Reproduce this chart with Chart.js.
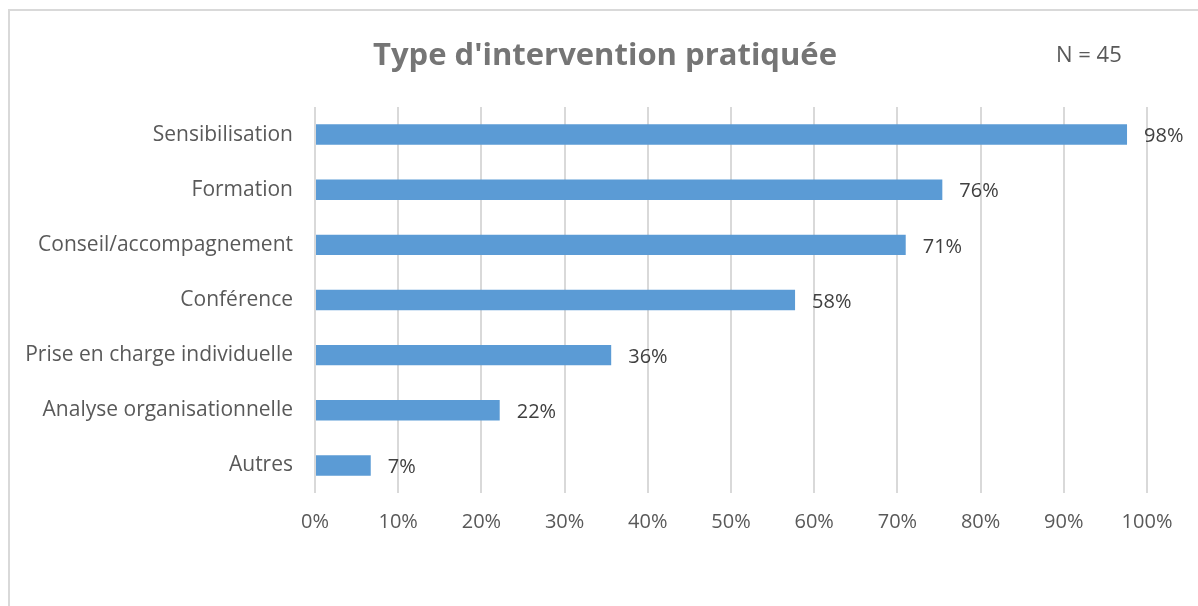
<!DOCTYPE html>
<html>
<head>
<meta charset="utf-8">
<script src="https://cdn.jsdelivr.net/npm/chart.js@4"></script>
<style>
  html, body { margin: 0; padding: 0; background: #fff; }
  #wrap { position: relative; width: 1198px; height: 606px; overflow: hidden; }
  #frame { position: absolute; left: 8px; top: 9px; width: 1300px; height: 700px;
           border-left: 2px solid #d9d9d9; border-top: 2px solid #d9d9d9; box-sizing: border-box; }
  canvas { position: absolute; left: 0; top: 0; }
</style>
</head>
<body>
<div id="wrap">
  <div id="frame"></div>
  <canvas id="chart" width="1198" height="606"></canvas>
</div>
<script>
// --- Data ---
const categories = [
  'Sensibilisation',
  'Formation',
  'Conseil/accompagnement',
  'Conférence',
  'Prise en charge individuelle',
  'Analyse organisationnelle',
  'Autres'
];
const values = [97.6, 75.4, 71.0, 57.7, 35.6, 22.2, 6.7];
const valueLabels = ['98%', '76%', '71%', '58%', '36%', '22%', '7%'];
const xTicks = [0, 10, 20, 30, 40, 50, 60, 70, 80, 90, 100];

const titleText = "Type d'intervention pratiquée";
const noteText = 'N = 45';

const FONT = '"Open Sans", sans-serif';

// titles drawn on top of the canvas
const headerPlugin = {
  id: 'header',
  afterDraw(chart) {
    const c = chart.ctx;
    c.save();
    c.textBaseline = 'middle';
    c.fillStyle = '#757575';
    c.font = 'bold 31px ' + FONT;
    c.textAlign = 'center';
    c.fillText(titleText, 605, 56);
    c.fillStyle = '#595959';
    c.font = '22px ' + FONT;
    c.textAlign = 'left';
    c.fillText(noteText, 1056, 56);
    c.restore();
  }
};

// value labels at the end of each bar
const valueLabelPlugin = {
  id: 'valueLabels',
  afterDatasetsDraw(chart) {
    const c = chart.ctx;
    const meta = chart.getDatasetMeta(0);
    c.save();
    c.font = '20px ' + FONT;
    c.fillStyle = '#404040';
    c.textAlign = 'left';
    c.textBaseline = 'middle';
    meta.data.forEach((bar, i) => {
      c.fillText(valueLabels[i], bar.x + 17, bar.y + 2);
    });
    c.restore();
  }
};

new Chart(document.getElementById('chart').getContext('2d'), {
  type: 'bar',
  data: {
    labels: categories,
    datasets: [{
      data: values,
      backgroundColor: '#5b9bd5',
      borderWidth: 0,
      barPercentage: 0.74,
      categoryPercentage: 0.5
    }]
  },
  plugins: [headerPlugin, valueLabelPlugin],
  options: {
    indexAxis: 'y',
    responsive: false,
    animation: false,
    layout: { padding: { top: 107, right: 51, bottom: 53, left: 0 } },
    plugins: {
      legend: { display: false },
      tooltip: { enabled: false },
      title: { display: false }
    },
    scales: {
      x: {
        min: 0,
        max: 100,
        afterBuildTicks: (scale) => { scale.ticks = xTicks.map(v => ({ value: v })); },
        afterFit: (scale) => { scale.height = 60; },
        grid: { color: '#d9d9d9', lineWidth: 2, drawTicks: false },
        border: { display: false },
        ticks: {
          color: '#595959',
          font: { family: FONT, size: 20 },
          padding: 17,
          callback: (v) => v + '%'
        }
      },
      y: {
        afterFit: (scale) => { scale.width = 315; },
        grid: { display: false, drawTicks: false },
        border: { display: false },
        ticks: {
          color: '#595959',
          font: { family: FONT, size: 21 },
          padding: 22
        }
      }
    }
  }
});
</script>
</body>
</html>
